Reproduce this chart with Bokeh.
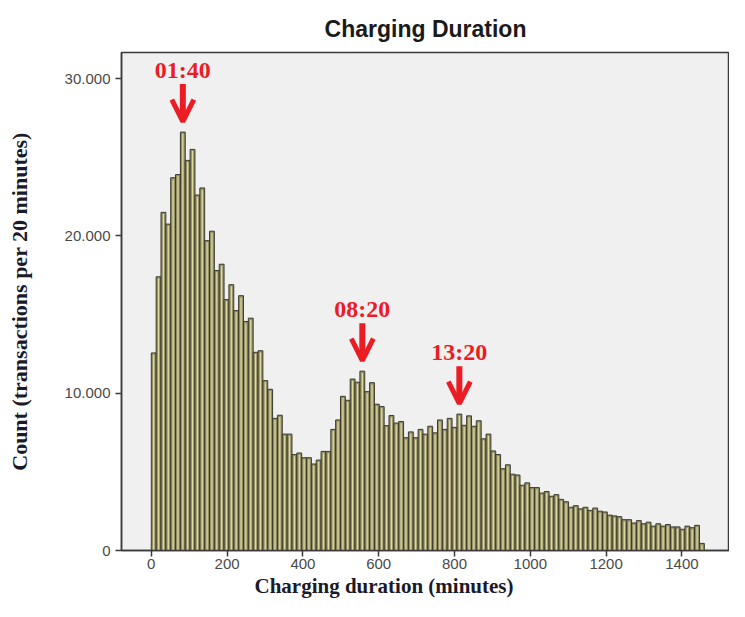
from bokeh.plotting import figure
from bokeh.models import Range1d, FixedTicker, Arrow, OpenHead, ColumnDataSource, Title
from bokeh.core.properties import value
from bokeh.embed import file_html
from bokeh.resources import INLINE

# ---------------- data ----------------
title_text = "Charging Duration"
x_label = "Charging duration (minutes)"
y_label = "Count (transactions per 20 minutes)"

bin_width = 12.8  # minutes per bar (as drawn)

counts_k = [
    12.56, 17.4, 21.5, 20.75, 23.7, 23.9, 26.6, 24.8, 25.5, 22.6,
    23.05, 19.7, 20.3, 17.8, 18.2, 15.95, 16.9, 15.25, 16.2, 14.56,
    14.77, 12.6, 12.7, 10.8, 10.25, 8.4, 8.6, 7.4, 7.4, 6.1,
    6.2, 5.9, 5.9, 5.5, 5.75, 6.3, 6.3, 7.7, 8.3, 9.8,
    9.55, 10.9, 10.7, 11.4, 10.1, 10.67, 9.3, 9.15, 7.94, 8.58,
    8.1, 8.2, 7.17, 7.54, 7.17, 7.7, 7.4, 7.9, 7.48, 8.3,
    7.7, 8.4, 7.83, 8.67, 7.96, 8.56, 7.9, 8.25, 7.1, 7.4,
    6.33, 6.1, 5.2, 5.45, 4.85, 4.8, 4.15, 4.3, 4.0, 4.0,
    3.65, 3.75, 3.45, 3.55, 3.25, 3.1, 2.75, 2.85, 2.65, 2.75,
    2.55, 2.7, 2.5, 2.45, 2.25, 2.2, 2.15, 1.96, 1.96, 1.75,
    1.9, 1.7, 1.8, 1.55, 1.7, 1.55, 1.65, 1.5, 1.5, 1.35,
    1.55, 1.45, 1.6, 0.45,
]

x_ticks = [0, 200, 400, 600, 800, 1000, 1200, 1400]
y_ticks = [0, 10000, 20000, 30000]
y_tick_labels = ["0", "10.000", "20.000", "30.000"]

peak_bins = [6, 43, 63]
peak_labels = ["01:40", "08:20", "13:20"]

# ---------------- derived ----------------
counts = [c * 1000 for c in counts_k]
centers = [(i + 0.5) * bin_width for i in range(len(counts))]

RED = "#ec1c24"

p = figure(
    width=729, height=601,
    x_range=Range1d(-78.6, 1525.6),
    y_range=Range1d(0, 31660),
    output_backend="svg", toolbar_location=None,
    min_border_left=121, min_border_right=0,
    min_border_top=52, min_border_bottom=51,
    background_fill_color="#f0f0f0", border_fill_color="white",
)

p.title.text = title_text
p.title.align = "center"
p.title.text_font = "Liberation Sans"
p.title.text_font_style = "bold"
p.title.text_font_size = "23px"
p.title.text_color = "#1a1a1a"
p.title.standoff = 21

p.grid.visible = False
p.outline_line_color = "#3a3a3a"
p.outline_line_width = 1.5

src = ColumnDataSource(dict(x=centers, top=counts,
                            stripe_top=[max(c - 110, 0) for c in counts]))

p.vbar(x="x", top="top", width=bin_width, bottom=0, source=src,
       fill_color="#948f66", line_color="#3b3b30", line_width=1)
p.vbar(x="x", top="stripe_top", width=bin_width * 0.26, bottom=0, source=src,
       fill_color="#dedb9c", line_color=None)

# peak annotations
ax = [centers[i] for i in peak_bins]
ay = [counts[i] for i in peak_bins]
asrc = ColumnDataSource(dict(
    x=ax,
    tip=[v + 667 for v in ay],
    tail=[v + 3050 for v in ay],
    ty=[v + 3940 for v in ay],
    label=peak_labels,
))
p.add_layout(Arrow(end=OpenHead(size=22, line_width=5, line_color=RED),
                   x_start="x", y_start="tail", x_end="x", y_end="tip",
                   line_width=6, line_color=RED, source=asrc))
p.text(x="x", y="ty", text="label", source=asrc,
       text_font=value("Liberation Serif"), text_font_style="bold",
       text_font_size="24px", text_color=RED,
       text_align="center", text_baseline="middle")

# axes
for ax_ in (p.xaxis[0], p.yaxis[0]):
    ax_.axis_line_color = "#3a3a3a"
    ax_.axis_line_width = 1.5
    ax_.major_tick_line_color = "#3a3a3a"
    ax_.major_tick_line_width = 1.5
    ax_.major_tick_in = 0
    ax_.major_tick_out = 6
    ax_.minor_tick_line_color = None
    ax_.major_label_text_font = "Liberation Sans"
    ax_.major_label_text_font_size = "15px"
    ax_.major_label_text_color = "#4a4a4a"

p.xaxis.ticker = FixedTicker(ticks=x_ticks)
p.yaxis.ticker = FixedTicker(ticks=y_ticks)
p.yaxis.major_label_overrides = {t: l for t, l in zip(y_ticks, y_tick_labels)}
p.xaxis.major_label_standoff = 2
p.yaxis.major_label_standoff = 5

p.yaxis.axis_label = y_label
p.yaxis.axis_label_text_font = "Liberation Serif"
p.yaxis.axis_label_text_font_style = "bold"
p.yaxis.axis_label_text_font_size = "22px"
p.yaxis.axis_label_text_color = "#1a1a2a"
p.yaxis.axis_label_standoff = 30

# x-axis title below the tick labels, shifted left as in the reference
xt = Title(text=x_label, align="left", offset=133, standoff=0,
           text_font="Liberation Serif", text_font_style="bold",
           text_font_size="21px", text_color="#1a1a2a")
p.add_layout(xt, "below")

open("out.html", "w").write(file_html(p, INLINE))
